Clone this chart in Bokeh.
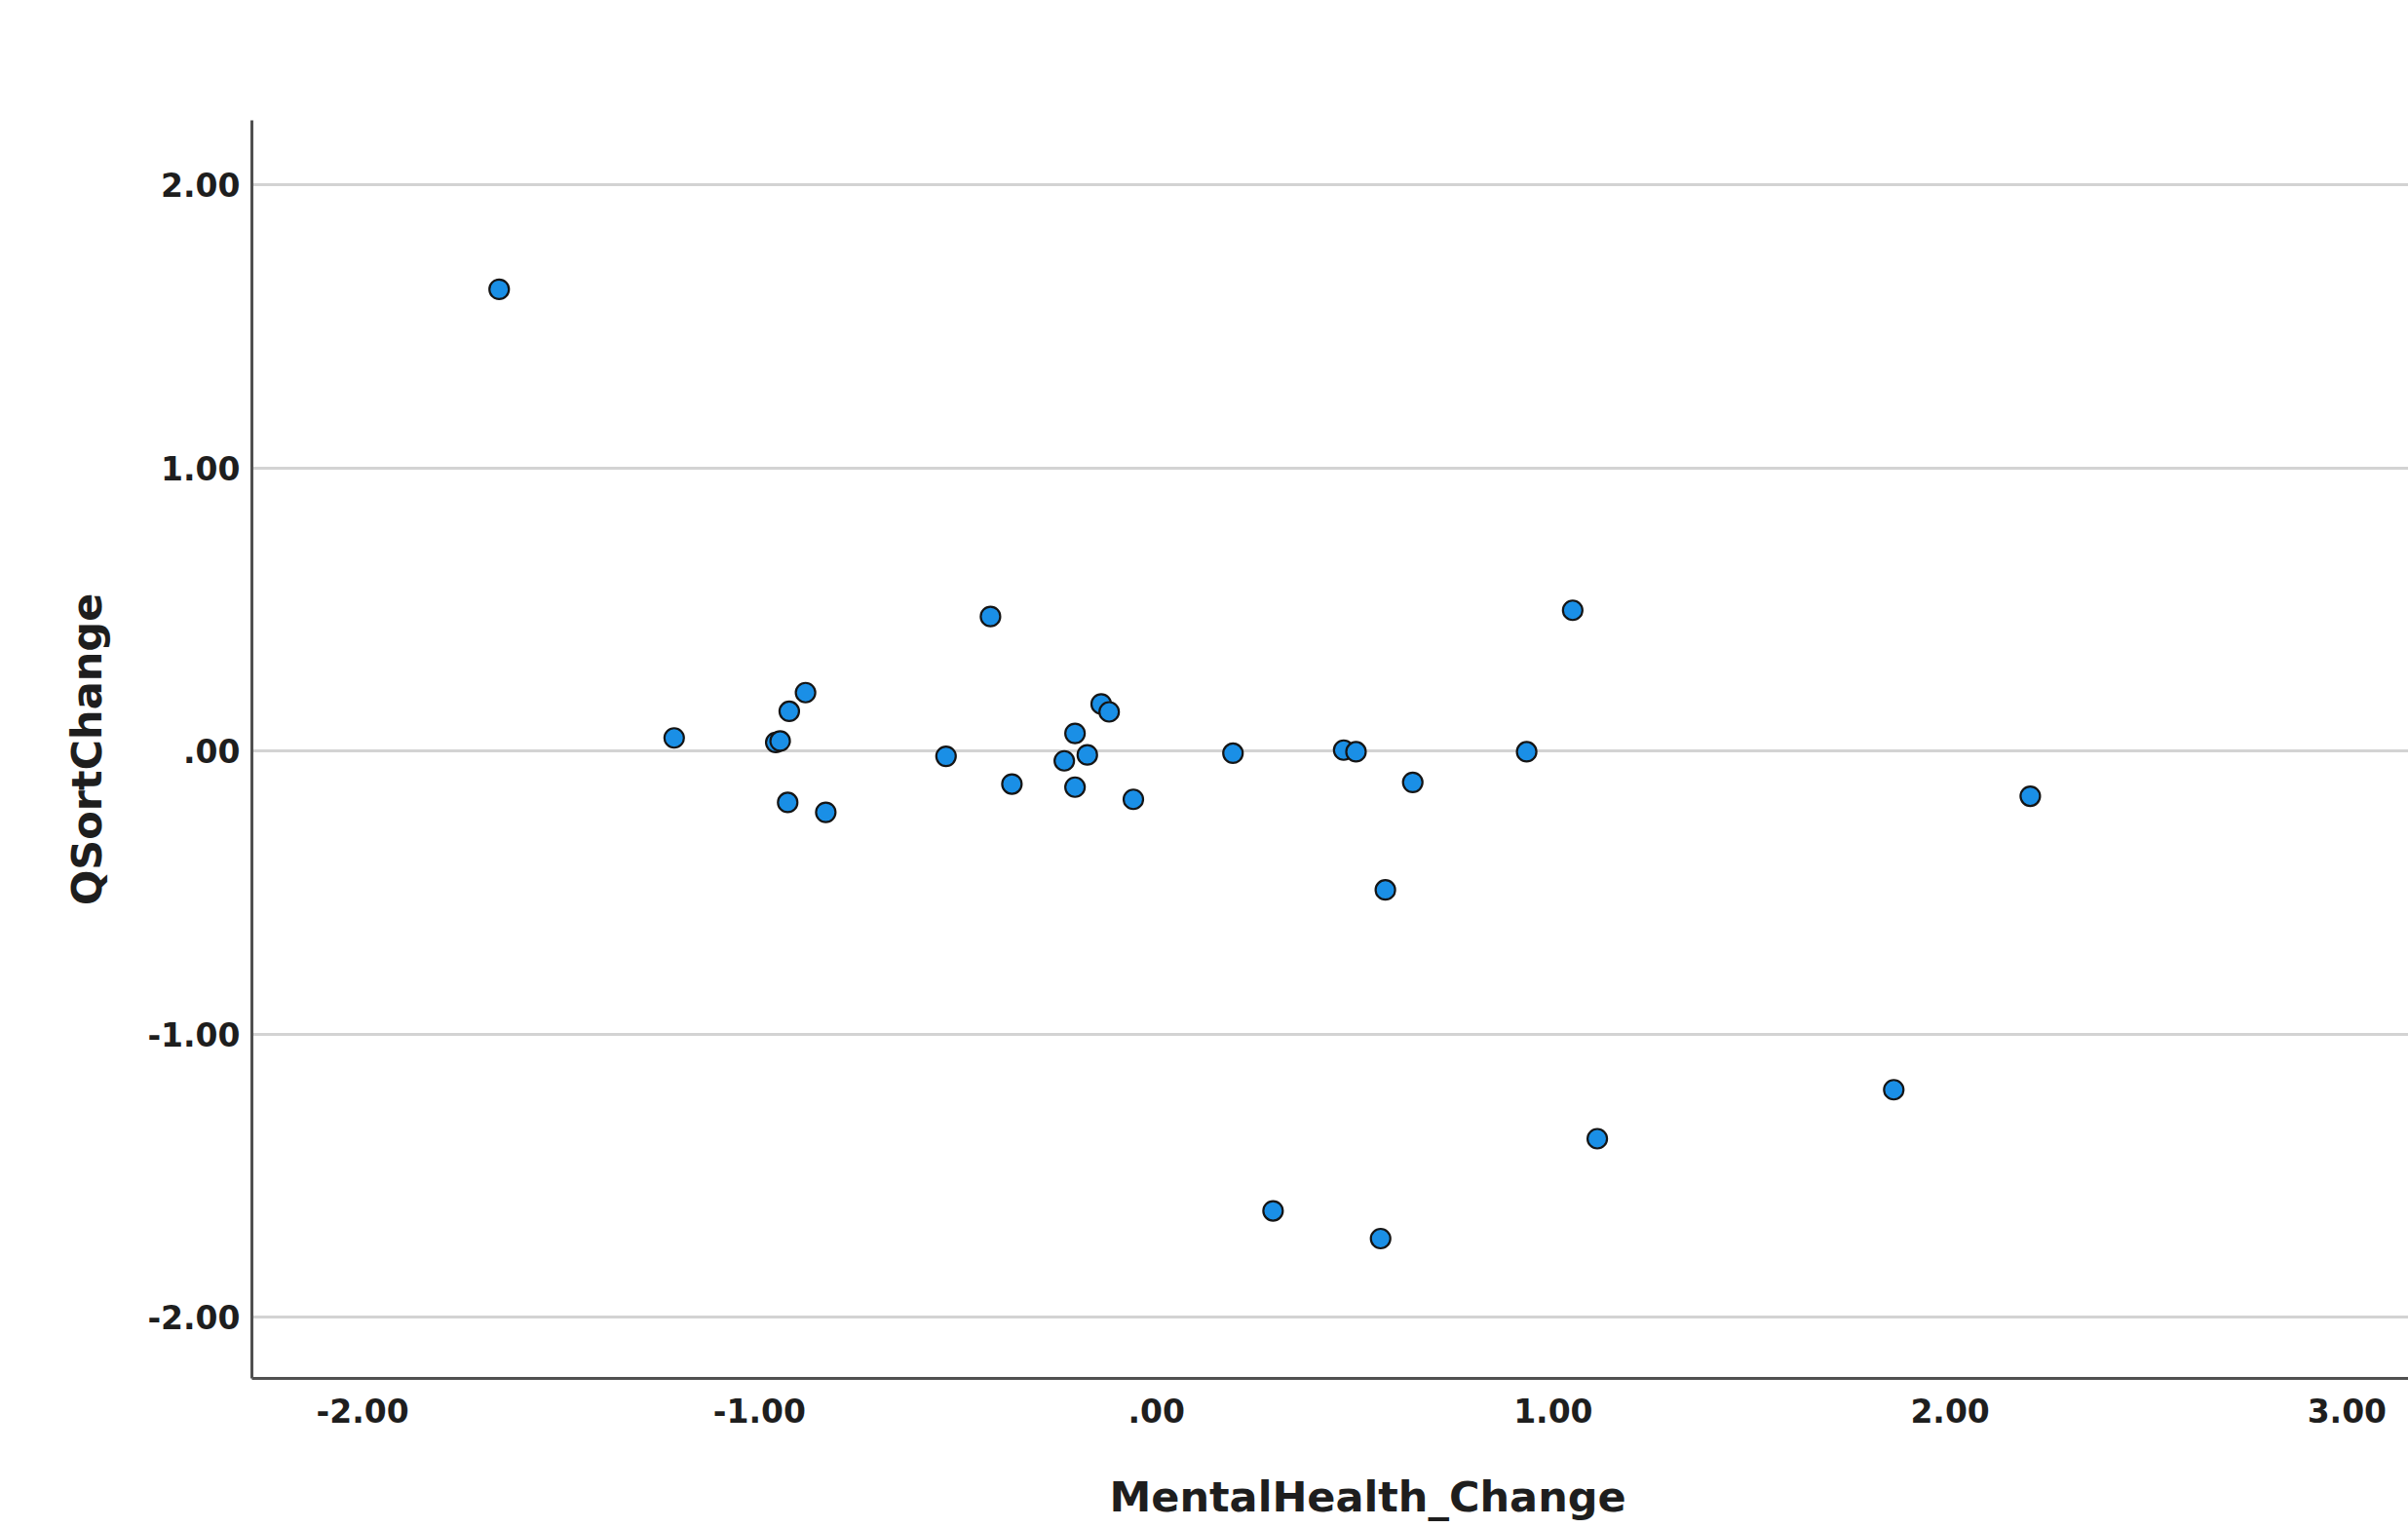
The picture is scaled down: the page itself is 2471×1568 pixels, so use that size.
from bokeh.plotting import figure
from bokeh.models import Range1d, FixedTicker, Title
from bokeh.embed import file_html
from bokeh.resources import INLINE

# Data
mental_health_change = [
    -1.656, -1.215, -0.884, -0.925, -0.959, -0.948, -0.929, -0.833,
    -0.530, -0.418, -0.364, -0.232, -0.205, -0.174, -0.205, -0.139,
    -0.119, -0.058, 0.193, 0.472, 0.503, 0.646, 0.577, 0.933,
    1.049, 1.111, 0.294, 0.565, 1.858, 2.202,
]
qsort_change = [
    1.631, 0.046, 0.206, 0.140, 0.030, 0.035, -0.182, -0.217,
    -0.019, 0.475, -0.117, -0.035, 0.062, -0.014, -0.128, 0.166,
    0.138, -0.171, -0.008, 0.003, -0.003, -0.111, -0.491, -0.003,
    0.497, -1.370, -1.625, -1.723, -1.197, -0.160,
]

x_ticks = [-2, -1, 0, 1, 2, 3]
x_tick_labels = ["-2.00", "-1.00", ".00", "1.00", "2.00", "3.00"]
y_ticks = [-2, -1, 0, 1, 2]
y_tick_labels = ["-2.00", "-1.00", ".00", "1.00", "2.00"]

x_title = "MentalHealth_Change"
y_title = "QSortChange"

FONT = "DejaVu Sans"
TEXT = "#1e1e1e"

p = figure(
    width=2471, height=1566,
    output_backend="svg", toolbar_location=None,
    x_range=Range1d(-2.279, 3.155), y_range=Range1d(-2.217, 2.228),
    min_border_left=258, min_border_right=0,
    min_border_top=123, min_border_bottom=152,
)
p.outline_line_color = None
p.background_fill_color = "white"
p.border_fill_color = "white"

# grid
p.xgrid.grid_line_color = None
p.ygrid.grid_line_color = "#d3d3d3"
p.ygrid.grid_line_width = 3
p.ygrid.ticker = FixedTicker(ticks=y_ticks)

# axes
for ax in (p.xaxis[0], p.yaxis[0]):
    ax.axis_line_color = "#505050"
    ax.axis_line_width = 3
    ax.major_tick_line_color = None
    ax.minor_tick_line_color = None
    ax.major_label_text_font = FONT
    ax.major_label_text_font_style = "bold"
    ax.major_label_text_font_size = "33px"
    ax.major_label_text_color = TEXT

p.xaxis[0].ticker = FixedTicker(ticks=x_ticks)
p.xaxis[0].major_label_overrides = {t: l for t, l in zip(x_ticks, x_tick_labels)}
p.xaxis[0].major_label_standoff = 14

p.yaxis[0].ticker = FixedTicker(ticks=y_ticks)
p.yaxis[0].major_label_overrides = {t: l for t, l in zip(y_ticks, y_tick_labels)}
p.yaxis[0].major_label_standoff = 6
p.yaxis[0].axis_label = y_title
p.yaxis[0].axis_label_text_font = FONT
p.yaxis[0].axis_label_text_font_style = "bold"
p.yaxis[0].axis_label_text_font_size = "43px"
p.yaxis[0].axis_label_text_color = TEXT
p.yaxis[0].axis_label_standoff = 34

# blank spacer between the tick labels and the x-axis title
p.add_layout(Title(text=" ", text_font_size="10px", standoff=33), "below")

# x-axis title (sits right of the frame centre, as in the reference)
p.add_layout(Title(
    text=x_title, text_font=FONT, text_font_style="bold",
    text_font_size="43px", text_color=TEXT,
    align="left", offset=880, standoff=0, vertical_align="bottom",
), "below")

p.scatter(
    mental_health_change, qsort_change,
    size=20, fill_color="#1a8fe6", line_color="#151515", line_width=2.2,
)

open("out.html", "w").write(file_html(p, INLINE))
